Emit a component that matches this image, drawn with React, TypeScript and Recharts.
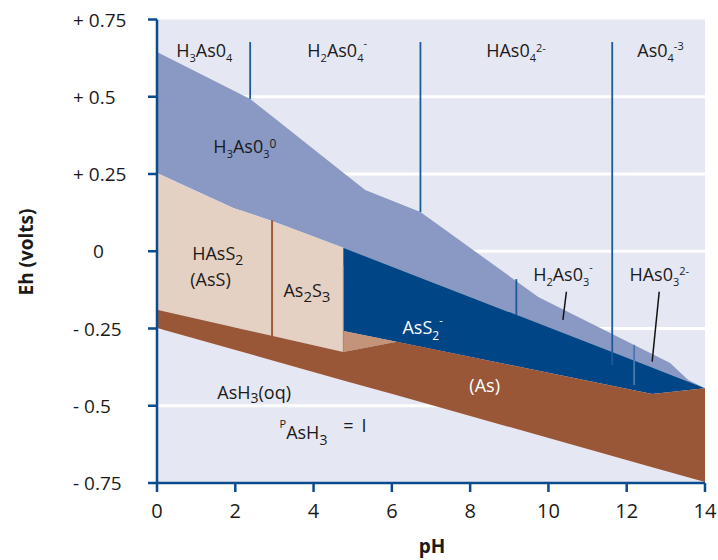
import React from 'react';
import {
  Area,
  CartesianGrid,
  ComposedChart,
  ReferenceDot,
  ReferenceLine,
  XAxis,
  YAxis,
} from 'recharts';

const FONT = "'Open Sans', 'Noto Sans', sans-serif";
const AXIS_BLUE = '#0b4a8d';
const INK = '#1a1a1a';

const phTicks = [0, 2, 4, 6, 8, 10, 12, 14];
const ehTicks = [0.75, 0.5, 0.25, 0, -0.25, -0.5, -0.75];
const ehTickLabels = ['+ 0.75', '+ 0.5', '+ 0.25', '0', '- 0.25', '- 0.5', '- 0.75'];
const gridEh = [0.5, 0.25, 0, -0.25, -0.5];

// H3AsO3(0) field, incl. the thin H2AsO3- / HAsO3 2- strip (lower / upper Eh)
const arseniteField = [
  { ph: 0, lo: 0.253, hi: 0.645 },
  { ph: 1.95, lo: 0.14, hi: 0.52 },
  { ph: 2.38, lo: 0.122, hi: 0.493 },
  { ph: 2.94, lo: 0.098, hi: 0.437 },
  { ph: 4.76, lo: 0.011, hi: 0.254 },
  { ph: 5.32, lo: -0.017, hi: 0.198 },
  { ph: 6.73, lo: -0.086, hi: 0.127 },
  { ph: 9.74, lo: -0.234, hi: -0.148 },
  { ph: 13.11, lo: -0.399, hi: -0.362 },
  { ph: 13.57, lo: -0.422, hi: -0.417 },
  { ph: 14, lo: -0.443, hi: -0.443 },
];

// HAsS2 (AsS) + As2S3
const sulfideField = [
  { ph: 0, lo: -0.189, hi: 0.253 },
  { ph: 1.95, lo: -0.245, hi: 0.14 },
  { ph: 2.94, lo: -0.274, hi: 0.098 },
  { ph: 4.76, lo: -0.326, hi: 0.011 },
];

// AsS2-
const thioField = [
  { ph: 4.76, lo: -0.258, hi: 0.011 },
  { ph: 12.65, lo: -0.462, hi: -0.376 },
  { ph: 14, lo: -0.443, hi: -0.443 },
];

const wedgeField = [
  { ph: 4.76, lo: -0.326, hi: -0.258 },
  { ph: 6.13, lo: -0.293, hi: -0.293 },
];

// native (As)
const arsenicField = [
  { ph: 0, lo: -0.248, hi: -0.189 },
  { ph: 4.76, lo: -0.418, hi: -0.326 },
  { ph: 6.13, lo: -0.466, hi: -0.293 },
  { ph: 12.65, lo: -0.699, hi: -0.462 },
  { ph: 14, lo: -0.747, hi: -0.443 },
];

// vertical pK boundaries
const pkLines = [
  { ph: 2.38, from: 0.677, to: 0.493, color: '#1d5a9c' },
  { ph: 6.73, from: 0.677, to: 0.127, color: '#1d5a9c' },
  { ph: 11.63, from: 0.677, to: -0.368, color: '#1d5a9c' },
  { ph: 9.18, from: -0.09, to: -0.206, color: '#1d5a9c' },
  { ph: 12.19, from: -0.303, to: -0.433, color: '#4a78ad' },
];

const sulfideSplit = [
  { ph: 2.94, from: 0.101, to: -0.274, color: '#a0583a', width: 2 },
  { ph: 4.76, from: -0.045, to: -0.326, color: '#b48064', width: 1 },
];

const pointers = [
  { ph1: 10.46, eh1: -0.131, ph2: 10.37, eh2: -0.222 },
  { ph1: 12.83, eh1: -0.131, ph2: 12.65, eh2: -0.357 },
];

type Part = { t: string; k?: 'sub' | 'sup'; size?: number; shift?: number; dx?: number };
type FieldLabel = { ph: number; eh: number; parts: Part[]; color?: string };

const fieldLabels: FieldLabel[] = [
  { ph: 0.49, eh: 0.629, parts: [{ t: 'H' }, { t: '3', k: 'sub' }, { t: 'As0' }, { t: '4', k: 'sub' }] },
  {
    ph: 3.84,
    eh: 0.629,
    parts: [{ t: 'H' }, { t: '2', k: 'sub' }, { t: 'As0' }, { t: '4', k: 'sub' }, { t: '-', k: 'sup', shift: -10 }],
  },
  { ph: 8.41, eh: 0.629, parts: [{ t: 'HAs0' }, { t: '4', k: 'sub' }, { t: '2-', k: 'sup', shift: -5 }] },
  { ph: 12.27, eh: 0.629, parts: [{ t: 'As0' }, { t: '4', k: 'sub' }, { t: '-3', k: 'sup', shift: -7 }] },
  {
    ph: 1.44,
    eh: 0.318,
    parts: [{ t: 'H' }, { t: '3', k: 'sub' }, { t: 'As0' }, { t: '3', k: 'sub' }, { t: '0', k: 'sup', size: 12, shift: -5 }],
  },
  { ph: 0.9, eh: -0.028, parts: [{ t: 'HAsS' }, { t: '2', k: 'sub', size: 14 }] },
  { ph: 0.85, eh: -0.112, parts: [{ t: '(AsS)' }] },
  { ph: 3.23, eh: -0.148, parts: [{ t: 'As' }, { t: '2', k: 'sub', size: 15 }, { t: 'S' }, { t: '3', k: 'sub', size: 15 }] },
  {
    ph: 6.27,
    eh: -0.268,
    color: '#ffffff',
    parts: [{ t: 'AsS' }, { t: '2', k: 'sub', size: 12, shift: 6 }, { t: '-', k: 'sup', shift: -10 }],
  },
  {
    ph: 9.61,
    eh: -0.096,
    parts: [{ t: 'H' }, { t: '2', k: 'sub' }, { t: 'As0' }, { t: '3', k: 'sub' }, { t: '-', k: 'sup', shift: -10 }],
  },
  { ph: 12.07, eh: -0.096, parts: [{ t: 'HAs0' }, { t: '3', k: 'sub' }, { t: '2-', k: 'sup', shift: -6 }] },
  { ph: 7.98, eh: -0.456, color: '#ffffff', parts: [{ t: '(As)' }] },
  { ph: 1.54, eh: -0.478, parts: [{ t: 'AsH' }, { t: '3', k: 'sub', size: 14, shift: 4 }, { t: '(oq)' }] },
  {
    ph: 3.13,
    eh: -0.608,
    parts: [{ t: 'P', k: 'sup', shift: -11 }, { t: 'AsH' }, { t: '3', k: 'sub', size: 14, shift: 6 }],
  },
  { ph: 4.76, eh: -0.585, parts: [{ t: '=' }, { t: 'I', dx: 8 }] },
];

function ChemText({ cx, cy, label }: { cx: number; cy: number; label: FieldLabel }) {
  let level = 0;
  return (
    <text x={cx} y={cy} fill={label.color ?? INK} fontSize={18} fontFamily={FONT}>
      {label.parts.map((p, i) => {
        const target = p.shift ?? (p.k === 'sub' ? 5 : p.k === 'sup' ? -6 : 0);
        const dy = target - level;
        level = target;
        return (
          <tspan key={i} dy={dy} dx={p.dx} fontSize={p.size ?? (p.k ? 11 : 18)}>
            {p.t}
          </tspan>
        );
      })}
    </text>
  );
}

function EhTick({ y, payload }: any) {
  const i = ehTicks.indexOf(payload.value);
  return (
    <text x={payload.value === 0 ? 93 : 73} y={y + 7} fontSize={19} fill={INK} fontFamily={FONT}>
      {ehTickLabels[i]}
    </text>
  );
}

function PhTick({ x, y, payload }: any) {
  return (
    <text x={x} y={y + 26} textAnchor="middle" fontSize={20} fill={INK} fontFamily={FONT}>
      {payload.value}
    </text>
  );
}

function PhTitle() {
  return (
    <text x={432} y={553} textAnchor="middle" fontSize={19} fontWeight={700} fill={INK} fontFamily={FONT}>
      pH
    </text>
  );
}

function EhTitle() {
  return (
    <text
      transform="translate(33, 252) rotate(-90)"
      textAnchor="middle"
      fontSize={19}
      fontWeight={700}
      fill={INK}
      fontFamily={FONT}
    >
      Eh (volts)
    </text>
  );
}

const range = (d: { lo: number; hi: number }) => [d.lo, d.hi];

export default function App() {
  return (
    <div style={{ width: 718, height: 560 }}>
      <style>{'body{margin:0}'}</style>
      <ComposedChart width={718} height={560} margin={{ top: 19.5, right: 13, bottom: 0, left: 0 }}>
        <CartesianGrid
          vertical={false}
          horizontalValues={gridEh}
          stroke="#ffffff"
          strokeWidth={3}
          fill="#e5e7f2"
          fillOpacity={1}
        />
        <XAxis
          type="number"
          dataKey="ph"
          domain={[0, 14]}
          ticks={phTicks}
          interval={0}
          height={77}
          tickSize={9}
          tickMargin={0}
          tick={<PhTick />}
          axisLine={{ stroke: AXIS_BLUE, strokeWidth: 2.5 }}
          tickLine={{ stroke: AXIS_BLUE, strokeWidth: 2.5 }}
          label={{ content: () => <PhTitle /> }}
        />
        <YAxis
          type="number"
          domain={[-0.75, 0.75]}
          allowDataOverflow
          ticks={ehTicks}
          interval={0}
          width={157}
          tickSize={9}
          tick={<EhTick />}
          axisLine={{ stroke: AXIS_BLUE, strokeWidth: 2.5 }}
          tickLine={{ stroke: AXIS_BLUE, strokeWidth: 2.5 }}
          label={{ content: () => <EhTitle /> }}
        />
        <Area data={arseniteField} dataKey={range} type="linear" stroke="none" fill="#8999c4" fillOpacity={1} dot={false} activeDot={false} isAnimationActive={false} />
        <Area data={sulfideField} dataKey={range} type="linear" stroke="none" fill="#e5d1c3" fillOpacity={1} dot={false} activeDot={false} isAnimationActive={false} />
        <Area data={thioField} dataKey={range} type="linear" stroke="none" fill="#004687" fillOpacity={1} dot={false} activeDot={false} isAnimationActive={false} />
        <Area data={wedgeField} dataKey={range} type="linear" stroke="none" fill="#c4947a" fillOpacity={1} dot={false} activeDot={false} isAnimationActive={false} />
        <Area data={arsenicField} dataKey={range} type="linear" stroke="none" fill="#9a5738" fillOpacity={1} dot={false} activeDot={false} isAnimationActive={false} />

        {pkLines.map((b) => (
          <ReferenceLine
            key={`pk-${b.ph}`}
            segment={[{ x: b.ph, y: b.from }, { x: b.ph, y: b.to }]}
            stroke={b.color}
            strokeWidth={1.8}
          />
        ))}
        {sulfideSplit.map((b) => (
          <ReferenceLine
            key={`s-${b.ph}`}
            segment={[{ x: b.ph, y: b.from }, { x: b.ph, y: b.to }]}
            stroke={b.color}
            strokeWidth={b.width}
          />
        ))}
        {pointers.map((p) => (
          <ReferenceLine
            key={`p-${p.ph1}`}
            segment={[{ x: p.ph1, y: p.eh1 }, { x: p.ph2, y: p.eh2 }]}
            stroke="#111111"
            strokeWidth={1.5}
          />
        ))}
        {fieldLabels.map((lab, i) => (
          <ReferenceDot
            key={`l-${i}`}
            x={lab.ph}
            y={lab.eh}
            r={0}
            shape={(props: any) => <ChemText cx={props.cx} cy={props.cy} label={lab} />}
          />
        ))}
      </ComposedChart>
    </div>
  );
}
